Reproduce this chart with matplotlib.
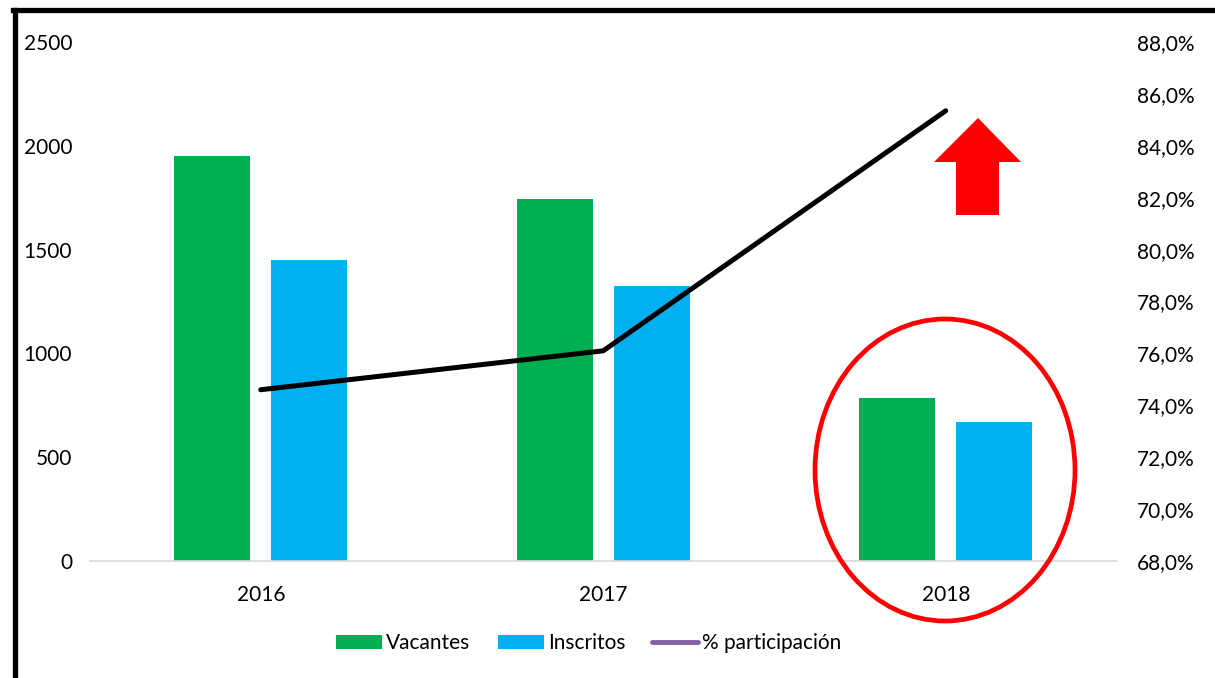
import matplotlib
matplotlib.use("Agg")
import matplotlib.pyplot as plt
from matplotlib.patches import Patch, Ellipse, Polygon
from matplotlib.lines import Line2D
from matplotlib.ticker import FuncFormatter

# ---------------------------
# Data
# ---------------------------
years = ["2016", "2017", "2018"]
vacantes = [1950, 1745, 785]
inscritos = [1450, 1325, 670]
participacion = [74.6, 76.1, 85.35]

GREEN = "#00B050"
BLUE = "#00B0F0"
PURPLE = "#8064A2"

plt.rcParams["font.family"] = ["Lato", "DejaVu Sans"]
plt.rcParams["font.size"] = 15

W, H = 1215, 678
fig = plt.figure(figsize=(W / 100, H / 100), dpi=100)

# plot area in pixels
left, right, top, bottom = 89.5, 1117, 42, 561
ax = fig.add_axes([left / W, 1 - bottom / H, (right - left) / W, (bottom - top) / H])

x = list(range(len(years)))
off = 0.1416
bw = 0.222
ax.bar([i - off for i in x], vacantes, width=bw, color=GREEN, zorder=2)
ax.bar([i + off for i in x], inscritos, width=bw, color=BLUE, zorder=2)

ax.set_xlim(-0.5, 2.5)
ax.set_ylim(0, 2500)
ax.set_yticks(range(0, 2501, 500))
ax.set_xticks(x)
ax.set_xticklabels(years)
ax.tick_params(axis="both", length=0, colors="#000000")
ax.tick_params(axis="x", pad=17)
ax.tick_params(axis="y", pad=12.5)
for s in ["top", "right", "left"]:
    ax.spines[s].set_visible(False)
ax.spines["bottom"].set_color("#D9D9D9")
ax.spines["bottom"].set_linewidth(1.2)

# secondary axis - % participación
ax2 = ax.twinx()
ax2.plot(x, participacion, color="black", linewidth=3.6, solid_capstyle="round", zorder=3)
ax2.set_ylim(68, 88)
ax2.set_yticks(range(68, 89, 2))
ax2.yaxis.set_major_formatter(FuncFormatter(lambda v, p: f"{v:.1f}%".replace(".", ",")))
ax2.tick_params(axis="y", length=0, pad=14.5)
for s in ["top", "right", "left", "bottom"]:
    ax2.spines[s].set_visible(False)

# red ellipse around 2018 and red arrow
fig.patches.append(Ellipse((945 / W, 1 - 470 / H), 260 / W, 302 / H,
                           transform=fig.transFigure, fill=False,
                           edgecolor="#FF0000", linewidth=3.4, zorder=5))
arrow_px = [(978, 118), (1021, 162), (999, 162), (999, 215),
            (956, 215), (956, 162), (934, 162)]
fig.patches.append(Polygon([(px / W, 1 - py / H) for px, py in arrow_px],
                           closed=True, transform=fig.transFigure,
                           facecolor="#FF0000", edgecolor="none", zorder=5))

# border on left and top
fig.add_artist(Line2D([15 / W, 15 / W], [0, 1 - 10 / H], color="black", linewidth=3.8,
                      transform=fig.transFigure))
fig.add_artist(Line2D([13 / W, 1], [1 - 10 / H, 1 - 10 / H], color="black", linewidth=3.8,
                      transform=fig.transFigure))

# legend
handles = [Patch(facecolor=GREEN), Patch(facecolor=BLUE),
           Line2D([], [], color=PURPLE, linewidth=3.5, solid_capstyle="round")]
labels = ["Vacantes", "Inscritos", "% participación"]
fig.legend(handles, labels, loc="center", bbox_to_anchor=(589 / W, 1 - 643 / H),
           ncol=3, frameon=False, handlelength=2.2, handleheight=0.65,
           columnspacing=1.3, handletextpad=0.2)

fig.savefig("out.png", dpi=100)
